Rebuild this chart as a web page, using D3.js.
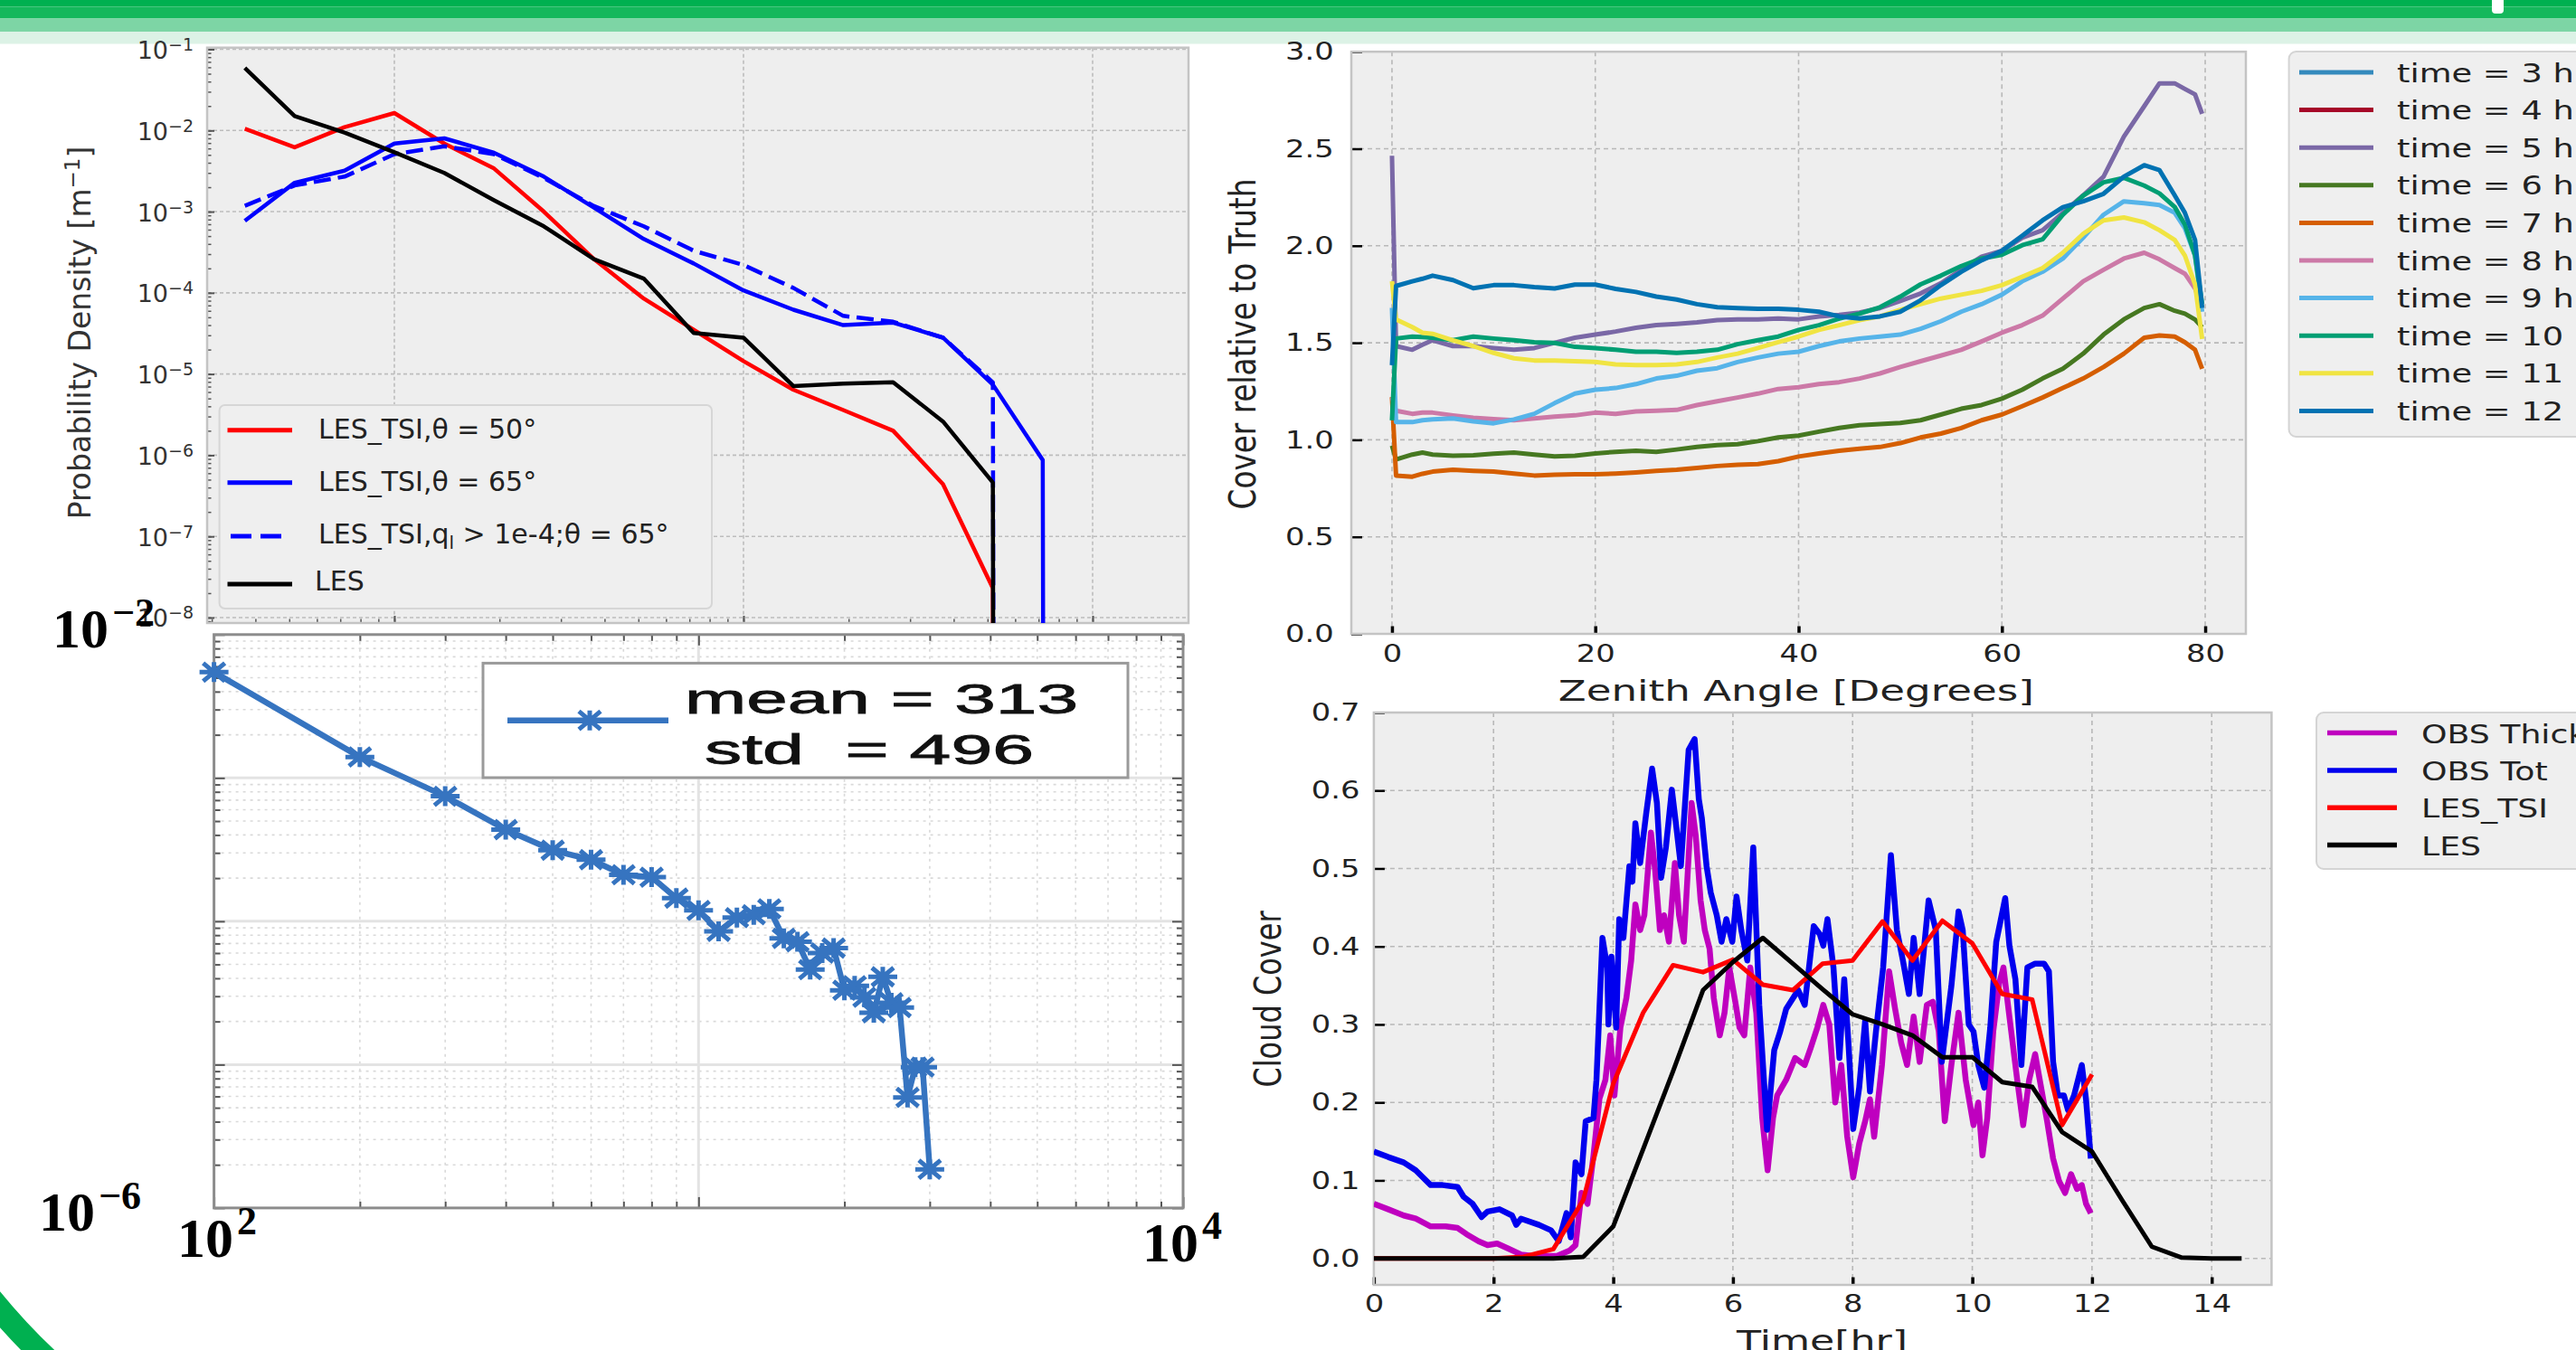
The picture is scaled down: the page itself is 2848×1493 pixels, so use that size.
<!DOCTYPE html>
<meta charset="utf-8">
<script src="https://d3js.org/d3.v7.min.js"></script>
<style>
  body { margin: 0; background: #fff; }
  svg { display: block; }
</style>
<div id="my_dataviz"></div>
<script>

// ---------------- data ----------------
// top left : cloud size PDF (log bins)
var cloudSize = [3.73, 5.18, 7.20, 10, 13.9, 19.3, 26.8, 37.3, 51.8, 72.0, 100, 138.9, 193.1, 268.3, 372.8, 517.9, 719.7, 1000];
var pdfTsi50  = [1.05e-2, 6.2e-3, 1.1e-2, 1.64e-2, 6.9e-3, 3.4e-3, 1.0e-3, 2.6e-4, 8.5e-5, 3.5e-5, 1.44e-5, 6.4e-6, 3.6e-6, 2.0e-6, 4.4e-7, 2.3e-8, 0];
var pdfTsi65  = [7.7e-4, 2.27e-3, 3.2e-3, 6.9e-3, 8.0e-3, 5.3e-3, 2.7e-3, 1.12e-3, 4.6e-4, 2.3e-4, 1.07e-4, 6.2e-5, 4.0e-5, 4.3e-5, 2.8e-5, 7.4e-6, 8.7e-7, 0];
var pdfTsiQl  = [1.18e-3, 2.1e-3, 2.7e-3, 5.1e-3, 6.4e-3, 5.1e-3, 2.6e-3, 1.17e-3, 6.6e-4, 3.3e-4, 2.2e-4, 1.15e-4, 5.2e-5, 4.4e-5, 2.8e-5, 7.9e-6, 0];
var pdfLes    = [5.9e-2, 1.5e-2, 9.4e-3, 5.4e-3, 3.0e-3, 1.38e-3, 6.6e-4, 2.6e-4, 1.5e-4, 3.2e-5, 2.8e-5, 7.1e-6, 7.6e-6, 7.9e-6, 2.6e-6, 4.6e-7, 0];
var pdfTicks  = [1e-1, 1e-2, 1e-3, 1e-4, 1e-5, 1e-6, 1e-7, 1e-8];
var pdfTickExp = ["\u22121", "\u22122", "\u22123", "\u22124", "\u22125", "\u22126", "\u22127", "\u22128"];

// bottom left : size distribution with markers
var sizeB = [100, 200, 300, 400, 500, 600, 700, 800, 900, 1000, 1100, 1200, 1300, 1400, 1500,
             1600, 1700, 1800, 1900, 2000, 2100, 2200, 2300, 2400, 2500, 2600, 2700, 2800, 2900, 3000];
var densB = [5.47e-3, 1.40e-3, 7.45e-4, 4.36e-4, 3.13e-4, 2.69e-4, 2.11e-4, 2.03e-4, 1.45e-4, 1.19e-4,
             8.5e-5, 1.06e-4, 1.11e-4, 1.22e-4, 7.6e-5, 7.2e-5, 4.6e-5, 6.0e-5, 6.5e-5, 3.3e-5,
             3.55e-5, 2.95e-5, 2.3e-5, 4.1e-5, 2.7e-5, 2.5e-5, 5.9e-6, 9.6e-6, 9.6e-6, 1.86e-6];
var legendB = ["mean = 313", "std  = 496"];

// top right : cover relative to truth vs zenith angle
var zenithAngle = [0, 0.4, 2, 3, 4, 6, 8, 10, 12, 14, 16, 18, 20, 22, 24, 26, 28, 30, 32, 34, 36, 38, 40,
                   42, 44, 46, 48, 50, 52, 54, 56, 58, 60, 62, 64, 66, 68, 70, 72, 74, 75.5, 77, 78, 79, 79.7];
var cover3h = [];
var cover4h = [];
var cover5h = [2.464, 1.483, 1.464, 1.49, 1.513, 1.483, 1.483, 1.473, 1.464, 1.473, 1.50, 1.526, 1.542, 1.558, 1.577, 1.591, 1.597, 1.605, 1.617, 1.621, 1.621, 1.625, 1.621,
               1.636, 1.644, 1.656, 1.679, 1.715, 1.754, 1.807, 1.876, 1.944, 1.974, 2.042, 2.08, 2.17, 2.26, 2.356, 2.562, 2.719, 2.837, 2.837, 2.808, 2.78, 2.68];
var cover6h = [0.97, 0.899, 0.924, 0.934, 0.924, 0.918, 0.920, 0.928, 0.934, 0.924, 0.914, 0.918, 0.930, 0.938, 0.944, 0.938, 0.950, 0.963, 0.973, 0.977, 0.993, 1.012, 1.022,
               1.042, 1.061, 1.075, 1.081, 1.087, 1.101, 1.130, 1.160, 1.179, 1.212, 1.258, 1.316, 1.366, 1.444, 1.542, 1.621, 1.679, 1.699, 1.665, 1.650, 1.62, 1.58];
var cover7h = [1.22, 0.816, 0.810, 0.825, 0.836, 0.846, 0.840, 0.836, 0.826, 0.816, 0.820, 0.822, 0.822, 0.826, 0.832, 0.840, 0.846, 0.855, 0.865, 0.871, 0.875, 0.890, 0.914,
               0.930, 0.944, 0.954, 0.963, 0.983, 1.012, 1.032, 1.061, 1.101, 1.130, 1.173, 1.218, 1.267, 1.316, 1.375, 1.444, 1.526, 1.538, 1.532, 1.503, 1.464, 1.366];
var cover8h = [1.22, 1.150, 1.134, 1.14, 1.140, 1.126, 1.114, 1.107, 1.101, 1.110, 1.120, 1.126, 1.140, 1.134, 1.146, 1.150, 1.154, 1.179, 1.199, 1.218, 1.238, 1.262, 1.271,
               1.287, 1.297, 1.316, 1.342, 1.375, 1.405, 1.434, 1.464, 1.507, 1.552, 1.591, 1.640, 1.728, 1.817, 1.876, 1.934, 1.964, 1.93, 1.885, 1.856, 1.78, 1.68];
var cover9h = [1.68, 1.091, 1.091, 1.101, 1.105, 1.110, 1.095, 1.085, 1.105, 1.134, 1.189, 1.238, 1.258, 1.267, 1.287, 1.316, 1.330, 1.356, 1.369, 1.401, 1.424, 1.444, 1.454,
               1.483, 1.507, 1.522, 1.532, 1.542, 1.572, 1.611, 1.660, 1.699, 1.748, 1.817, 1.866, 1.934, 2.042, 2.160, 2.229, 2.219, 2.21, 2.17, 2.09, 1.95, 1.66];
var cover10h = [1.10, 1.522, 1.532, 1.53, 1.526, 1.513, 1.532, 1.522, 1.513, 1.503, 1.499, 1.479, 1.473, 1.464, 1.454, 1.454, 1.448, 1.454, 1.464, 1.493, 1.513, 1.532, 1.566,
                1.591, 1.625, 1.650, 1.683, 1.738, 1.801, 1.846, 1.895, 1.934, 1.954, 2.003, 2.033, 2.160, 2.258, 2.327, 2.35, 2.31, 2.27, 2.20, 2.11, 1.95, 1.70];
var cover11h = [1.817, 1.621, 1.581, 1.552, 1.546, 1.513, 1.483, 1.448, 1.420, 1.409, 1.409, 1.405, 1.401, 1.389, 1.385, 1.385, 1.389, 1.401, 1.424, 1.444, 1.473, 1.503, 1.532,
                1.566, 1.591, 1.617, 1.636, 1.670, 1.699, 1.728, 1.748, 1.768, 1.797, 1.840, 1.885, 1.964, 2.062, 2.131, 2.146, 2.121, 2.08, 2.03, 1.95, 1.80, 1.52];
var cover12h = [1.385, 1.793, 1.817, 1.83, 1.846, 1.823, 1.781, 1.797, 1.797, 1.787, 1.78, 1.80, 1.80, 1.778, 1.762, 1.738, 1.723, 1.699, 1.683, 1.679, 1.675, 1.675, 1.670,
                1.660, 1.636, 1.625, 1.636, 1.660, 1.719, 1.797, 1.866, 1.925, 1.974, 2.052, 2.131, 2.199, 2.229, 2.268, 2.356, 2.415, 2.39, 2.26, 2.17, 2.03, 1.68];
var hourLabels = ["time = 3 h", "time = 4 h", "time = 5 h", "time = 6 h", "time = 7 h", "time = 8 h", "time = 9 h", "time = 10 h", "time = 11 h", "time = 12 h"];
var hourColors = ["#348ABD", "#A60628", "#7A68A6", "#467821", "#D55E00", "#CC79A7", "#56B4E9", "#009E73", "#F0E442", "#0072B2"];
var zenithTicks = [0, 20, 40, 60, 80];
var ratioTicks = [0, 0.5, 1, 1.5, 2, 2.5, 3];

// bottom right : cloud cover time series
var obsTotTime  = [0, 0.24, 0.5, 0.7, 0.95, 1.15, 1.4, 1.5, 1.65, 1.8, 1.9, 2.1, 2.31, 2.38, 2.46, 2.76, 2.96, 3.09, 3.22, 3.29, 3.37, 3.47, 3.54, 3.67, 3.72, 3.82, 3.9, 3.92, 3.97,
                   4.05, 4.1, 4.17, 4.27, 4.32, 4.37, 4.45, 4.55, 4.65, 4.73, 4.8, 4.88, 4.98, 5.05, 5.13, 5.26, 5.36, 5.43, 5.48, 5.56, 5.63, 5.73, 5.81, 5.89, 5.99,
                   6.06, 6.14, 6.24, 6.34, 6.44, 6.57, 6.69, 6.79, 6.89, 7.09, 7.2, 7.35, 7.45, 7.51, 7.58, 7.68, 7.78, 7.86, 7.93, 8.01, 8.11, 8.21, 8.29, 8.39, 8.51,
                   8.64, 8.74, 8.84, 8.94, 9.02, 9.12, 9.27, 9.39, 9.49, 9.65, 9.77, 9.84, 9.94, 10.02, 10.1, 10.2, 10.3, 10.4, 10.55, 10.62, 10.72, 10.82, 10.92,
                   11.05, 11.2, 11.28, 11.35, 11.43, 11.53, 11.6, 11.7, 11.83, 11.9, 11.98];
var obsTotCover = [0.137, 0.130, 0.123, 0.113, 0.094, 0.094, 0.0915, 0.079, 0.070, 0.053, 0.060, 0.063, 0.055, 0.043, 0.051, 0.043, 0.036, 0.022, 0.058, 0.027, 0.123, 0.108, 0.176, 0.180, 0.229, 0.411, 0.373, 0.30, 0.387,
                   0.296, 0.435, 0.411, 0.503, 0.483, 0.558, 0.507, 0.570, 0.628, 0.584, 0.488, 0.527, 0.601, 0.556, 0.503, 0.652, 0.666, 0.589, 0.565, 0.503, 0.469, 0.440, 0.406, 0.435, 0.406,
                   0.464, 0.421, 0.382, 0.527, 0.325, 0.165, 0.267, 0.291, 0.320, 0.344, 0.325, 0.426, 0.416, 0.401, 0.435, 0.373, 0.257, 0.358, 0.277, 0.166, 0.219, 0.305, 0.214, 0.291, 0.373,
                   0.517, 0.421, 0.382, 0.339, 0.411, 0.339, 0.459, 0.421, 0.252, 0.349, 0.445, 0.421, 0.300, 0.291, 0.248, 0.219, 0.296, 0.406, 0.462, 0.401, 0.358, 0.248, 0.373,
                   0.378, 0.378, 0.368, 0.252, 0.209, 0.209, 0.190, 0.209, 0.248, 0.204, 0.128];
var obsThickTime  = [0, 0.24, 0.5, 0.7, 0.95, 1.2, 1.4, 1.55, 1.75, 1.9, 2.06, 2.26, 2.46, 2.66, 2.86, 3.06, 3.27, 3.37, 3.47, 3.57, 3.67, 3.77, 3.87, 3.95, 4.02, 4.12, 4.22, 4.3,
                     4.37, 4.45, 4.52, 4.63, 4.7, 4.78, 4.85, 4.93, 5.03, 5.1, 5.18, 5.31, 5.38, 5.46, 5.53, 5.61, 5.68, 5.78, 5.86, 5.94, 6.04, 6.11, 6.19, 6.29, 6.39,
                     6.49, 6.58, 6.67, 6.74, 6.89, 7.04, 7.2, 7.3, 7.41, 7.51, 7.61, 7.71, 7.81, 7.91, 8.01, 8.11, 8.21, 8.29, 8.36, 8.49, 8.61, 8.71, 8.81, 8.91, 9.02,
                     9.12, 9.24, 9.34, 9.44, 9.54, 9.65, 9.77, 9.89, 10.02, 10.1, 10.17, 10.25, 10.35, 10.45, 10.52, 10.62, 10.75, 10.85, 10.95, 11.05, 11.15, 11.25,
                     11.35, 11.45, 11.55, 11.65, 11.75, 11.83, 11.9, 11.98];
var obsThickCover = [0.070, 0.063, 0.055, 0.051, 0.041, 0.041, 0.039, 0.031, 0.022, 0.017, 0.019, 0.012, 0.005, 0.003, 0.003, 0.003, 0.010, 0.017, 0.084, 0.070, 0.132, 0.205, 0.229, 0.286, 0.209, 0.296, 0.334, 0.382,
                     0.454, 0.421, 0.440, 0.546, 0.498, 0.421, 0.440, 0.406, 0.507, 0.440, 0.406, 0.584, 0.541, 0.459, 0.421, 0.397, 0.334, 0.286, 0.315, 0.373, 0.329, 0.296, 0.286, 0.373, 0.315,
                     0.180, 0.113, 0.180, 0.209, 0.229, 0.257, 0.248, 0.27, 0.296, 0.325, 0.300, 0.200, 0.248, 0.156, 0.104, 0.147, 0.176, 0.204, 0.156, 0.248, 0.368, 0.320, 0.277, 0.248, 0.310,
                     0.252, 0.325, 0.329, 0.291, 0.176, 0.248, 0.315, 0.229, 0.171, 0.200, 0.132, 0.180, 0.291, 0.353, 0.373, 0.310, 0.229, 0.171, 0.229, 0.262, 0.219, 0.176,
                     0.128, 0.099, 0.084, 0.108, 0.089, 0.094, 0.070, 0.058];
var lesTime  = [0, 0.5, 1, 1.5, 2, 2.5, 3, 3.5, 4, 4.5, 5, 5.5, 6, 6.5, 7, 7.5, 8, 8.5, 9, 9.5, 10, 10.5, 11, 11.5, 12, 12.5, 13, 13.5, 14, 14.5];
var lesCover = [0, 0, 0, 0, 0, 0, 0, 0.002, 0.041, 0.14, 0.24, 0.344, 0.38, 0.411, 0.378, 0.345, 0.313, 0.300, 0.286, 0.258, 0.258, 0.226, 0.220, 0.162, 0.137, 0.075, 0.015, 0.001, 0, 0];
var lesTsiTime  = [0, 0.5, 1, 1.5, 2, 2.5, 3, 3.5, 4, 4.5, 5, 5.5, 6, 6.5, 7, 7.5, 8, 8.5, 9, 9.5, 10, 10.5, 11, 11.5, 12];
var lesTsiCover = [0, 0, 0, 0, 0, 0.002, 0.012, 0.075, 0.224, 0.315, 0.376, 0.367, 0.383, 0.351, 0.344, 0.378, 0.382, 0.432, 0.382, 0.433, 0.404, 0.339, 0.332, 0.171, 0.236];
var coverLabels = ["OBS Thick", "OBS Tot", "LES_TSI", "LES"];
var timeTicks = [0, 2, 4, 6, 8, 10, 12, 14];
var coverTicks = [0, 0.1, 0.2, 0.3, 0.4, 0.5, 0.6, 0.7];

// ---------------- page ----------------
var W = 2848, H = 1493;
var svg = d3.select("#my_dataviz").append("svg")
    .attr("width", W).attr("height", H)
    .attr("font-family", "DejaVu Sans");
svg.append("rect").attr("width", W).attr("height", H).attr("fill", "#fff");

// green header bands
[[0, 7.5, "#00b050"], [7.5, 20.5, "#15b85c"], [20.5, 35, "#7dd5a5"], [35, 48.5, "#dcf2e6"]].forEach(function(b) {
  svg.append("rect").attr("x", 0).attr("y", b[0]).attr("width", W).attr("height", b[1] - b[0]).attr("fill", b[2]);
});
svg.append("rect").attr("x", 2755).attr("y", -6).attr("width", 13).attr("height", 21).attr("rx", 4).attr("fill", "#fff");
// green arc in the corner
svg.append("path").attr("d", "M -41 1395.5 A 700 700 0 0 0 101.5 1545.6")
  .attr("fill", "none").attr("stroke", "#00b050").attr("stroke-width", 26);

var defs = svg.append("defs");
function clip(id, x, y, w, h) {
  defs.append("clipPath").attr("id", id).append("rect").attr("x", x).attr("y", y).attr("width", w).attr("height", h);
  return "url(#" + id + ")";
}
function minors(lo, hi, kFrom, kTo) {
  var out = [];
  for (var k = kFrom; k <= kTo; k++) for (var n = 1; n <= 9; n++) {
    var v = n * Math.pow(10, k);
    if (v >= lo && v <= hi) out.push(v);
  }
  return out;
}
function ticksOnly(g, axis, tx, ty, color, width) {
  var a = g.append("g").attr("transform", "translate(" + tx + "," + ty + ")").call(axis);
  a.select(".domain").remove();
  a.selectAll("text").remove();
  a.selectAll("line").attr("stroke", color).attr("stroke-width", width);
  return a;
}

// ================= panel A : PDF (top left) =================
var A = {l: 229, r: 1314, t: 52.7, b: 689};
var xA = d3.scaleLog().domain([2.909, 1882]).range([A.l, A.r]);
var yA = d3.scaleLog().domain([8.57e-9, 0.1047]).range([A.b, A.t]);
var gA = svg.append("g");
gA.append("rect").attr("x", A.l).attr("y", A.t).attr("width", A.r - A.l).attr("height", A.b - A.t).attr("fill", "#eeeeee");
gA.selectAll(".gxa").data([10, 100, 1000]).enter().append("line")
  .attr("x1", d => xA(d)).attr("x2", d => xA(d)).attr("y1", A.t).attr("y2", A.b)
  .attr("stroke", "#bdbdbd").attr("stroke-width", 1.6).attr("stroke-dasharray", "4,3");
gA.selectAll(".gya").data(pdfTicks).enter().append("line")
  .attr("x1", A.l).attr("x2", A.r).attr("y1", d => yA(d)).attr("y2", d => yA(d))
  .attr("stroke", "#bdbdbd").attr("stroke-width", 1.6).attr("stroke-dasharray", "4,3");
ticksOnly(gA, d3.axisLeft(yA).tickValues(minors(8.57e-9, 0.1047, -9, -1)).tickSize(-4.5).tickFormat(""), A.l, 0, "#555", 1.5);
ticksOnly(gA, d3.axisLeft(yA).tickValues(pdfTicks).tickSize(-8).tickFormat(""), A.l, 0, "#555", 2);
ticksOnly(gA, d3.axisBottom(xA).tickValues(minors(2.909, 1882, 0, 3)).tickSize(-4.5).tickFormat(""), 0, A.b, "#555", 1.5);
ticksOnly(gA, d3.axisBottom(xA).tickValues([10, 100, 1000]).tickSize(-8).tickFormat(""), 0, A.b, "#555", 2);
gA.append("rect").attr("x", A.l).attr("y", A.t).attr("width", A.r - A.l).attr("height", A.b - A.t)
  .attr("fill", "none").attr("stroke", "#c4c4c4").attr("stroke-width", 2.5);

var clipA = clip("clipA", A.l, A.t, A.r - A.l, A.b - A.t);
var lineA = d3.line().x((d, i) => xA(cloudSize[i])).y(d => yA(Math.max(d, 1e-300)));
var seriesA = [
  {v: pdfTsi50, c: "#ff0000", dash: null},
  {v: pdfTsi65, c: "#0000ff", dash: null},
  {v: pdfTsiQl, c: "#0000ff", dash: "19,8"},
  {v: pdfLes,   c: "#000000", dash: null}
];
gA.append("g").attr("clip-path", clipA).selectAll("path").data(seriesA).enter().append("path")
  .attr("d", d => lineA(d.v)).attr("fill", "none").attr("stroke", d => d.c)
  .attr("stroke-width", 4.5).attr("stroke-linejoin", "round")
  .attr("stroke-dasharray", d => d.dash);

// y tick labels 10^-k
pdfTicks.forEach(function(t, i) {
  var tx = gA.append("text").attr("x", 214).attr("y", yA(t) + 10.5).attr("text-anchor", "end")
    .attr("fill", "#333").attr("font-size", 27);
  tx.append("tspan").text("10");
  tx.append("tspan").attr("dy", -9).attr("font-size", 19).text(pdfTickExp[i]);
});
var yl = gA.append("text").attr("transform", "translate(100,368) rotate(-90)").attr("text-anchor", "middle")
  .attr("font-size", 33).attr("fill", "#333");
yl.append("tspan").text("Probability Density [m");
yl.append("tspan").attr("dy", -12).attr("font-size", 23).text("\u22121");
yl.append("tspan").attr("dy", 12).text("]");

// legend A
gA.append("rect").attr("x", 242.6).attr("y", 448).attr("width", 544.4).attr("height", 225).attr("rx", 6)
  .attr("fill", "#efefef").attr("stroke", "#d6d6d6").attr("stroke-width", 2);
var legA = [
  {y: 475.7, c: "#ff0000", dash: null},
  {y: 533.7, c: "#0000ff", dash: null},
  {y: 593, c: "#0000ff", dash: "23,10"},
  {y: 646, c: "#000000", dash: null}
];
legA.forEach(function(e) {
  gA.append("line").attr("x1", e.dash ? 255 : 251.5).attr("x2", e.dash ? 314 : 323).attr("y1", e.y).attr("y2", e.y)
    .attr("stroke", e.c).attr("stroke-width", 5).attr("stroke-dasharray", e.dash);
});
function legText(x, y) {
  return gA.append("text").attr("x", x).attr("y", y).attr("font-size", 30).attr("fill", "#222");
}
legText(352, 484.7).text("LES_TSI,\u03b8 = 50\u00b0");
legText(352, 542.7).text("LES_TSI,\u03b8 = 65\u00b0");
var l3 = legText(352, 601);
l3.append("tspan").text("LES_TSI,q");
l3.append("tspan").attr("dy", 6).attr("font-size", 20).text("l");
l3.append("tspan").attr("dy", -6).text(" > 1e-4;\u03b8 = 65\u00b0");
legText(348, 653).text("LES");

// ================= panel B : matlab figure (bottom left) =================
var B = {l: 236.6, r: 1308, t: 701.8, b: 1335.9};
var xB = d3.scaleLog().domain([100, 10000]).range([B.l, B.r]);
var yB = d3.scaleLog().domain([1e-6, 1e-2]).range([B.b, B.t]);
var gB = svg.append("g");
gB.append("rect").attr("x", B.l).attr("y", B.t).attr("width", B.r - B.l).attr("height", B.b - B.t).attr("fill", "#fff");
var minXB = minors(100, 10000, 2, 3).filter(v => [100, 1000].indexOf(v) < 0);
var minYB = minors(1e-6, 1e-2, -6, -3).filter(v => [1e-6, 1e-5, 1e-4, 1e-3].indexOf(v) < 0);
gB.selectAll(".mxb").data(minXB).enter().append("line")
  .attr("x1", d => xB(d)).attr("x2", d => xB(d)).attr("y1", B.t).attr("y2", B.b)
  .attr("stroke", "#d9d9d9").attr("stroke-width", 1.6).attr("stroke-dasharray", "3,5");
gB.selectAll(".myb").data(minYB).enter().append("line")
  .attr("x1", B.l).attr("x2", B.r).attr("y1", d => yB(d)).attr("y2", d => yB(d))
  .attr("stroke", "#d9d9d9").attr("stroke-width", 1.6).attr("stroke-dasharray", "3,5");
gB.selectAll(".gxb").data([1000]).enter().append("line")
  .attr("x1", d => xB(d)).attr("x2", d => xB(d)).attr("y1", B.t).attr("y2", B.b)
  .attr("stroke", "#e3e3e3").attr("stroke-width", 3);
gB.selectAll(".gyb").data([1e-3, 1e-4, 1e-5]).enter().append("line")
  .attr("x1", B.l).attr("x2", B.r).attr("y1", d => yB(d)).attr("y2", d => yB(d))
  .attr("stroke", "#e3e3e3").attr("stroke-width", 3);
[["L", B.l, 0], ["R", B.r, 0], ["T", 0, B.t], ["Bt", 0, B.b]].forEach(function(s) {
  var mk = function(vals, len) {
    if (s[0] === "L") return d3.axisLeft(yB).tickValues(vals.y).tickSize(-len).tickFormat("");
    if (s[0] === "R") return d3.axisRight(yB).tickValues(vals.y).tickSize(-len).tickFormat("");
    if (s[0] === "T") return d3.axisTop(xB).tickValues(vals.x).tickSize(-len).tickFormat("");
    return d3.axisBottom(xB).tickValues(vals.x).tickSize(-len).tickFormat("");
  };
  ticksOnly(gB, mk({x: minXB, y: minYB}, 7), s[1], s[2], "#555", 2);
  ticksOnly(gB, mk({x: [100, 1000, 10000], y: [1e-6, 1e-5, 1e-4, 1e-3, 1e-2]}, 12), s[1], s[2], "#555", 2);
});
gB.append("rect").attr("x", B.l).attr("y", B.t).attr("width", B.r - B.l).attr("height", B.b - B.t)
  .attr("fill", "none").attr("stroke", "#8c8c8c").attr("stroke-width", 3);

var blueB = "#3674c0";
var star = "M-16,0H16M0,-11V11M-12,-10L12,10M-12,10L12,-10";
gB.append("path").datum(sizeB)
  .attr("d", d3.line().x(d => xB(d)).y((d, i) => yB(densB[i])))
  .attr("fill", "none").attr("stroke", blueB).attr("stroke-width", 6.5).attr("stroke-linejoin", "round");
gB.selectAll(".mk").data(sizeB).enter().append("path")
  .attr("transform", (d, i) => "translate(" + xB(d) + "," + yB(densB[i]) + ")")
  .attr("d", star).attr("fill", "none").attr("stroke", blueB).attr("stroke-width", 5);

// legend B
gB.append("rect").attr("x", 534).attr("y", 733.4).attr("width", 713).attr("height", 126.6)
  .attr("fill", "#fff").attr("stroke", "#9a9a9a").attr("stroke-width", 3);
gB.append("line").attr("x1", 561).attr("x2", 739).attr("y1", 796.7).attr("y2", 796.7)
  .attr("stroke", blueB).attr("stroke-width", 6.5);
gB.append("path").attr("transform", "translate(652,796.7)").attr("d", star)
  .attr("fill", "none").attr("stroke", blueB).attr("stroke-width", 5);
[[757, 789, 435], [779, 845, 364]].forEach(function(p, i) {
  gB.append("text").attr("x", p[0]).attr("y", p[1]).attr("font-family", "Liberation Sans")
    .attr("font-size", 47).attr("fill", "#111").attr("stroke", "#111").attr("stroke-width", 0.8)
    .attr("xml:space", "preserve").style("white-space", "pre")
    .attr("textLength", p[2]).attr("lengthAdjust", "spacingAndGlyphs").text(legendB[i]);
});

// bold axis labels pasted on the slide
function boldPow(x, y, base, sup, supDy) {
  var t = svg.append("text").attr("x", x).attr("y", y).attr("font-family", "Liberation Serif")
    .attr("font-weight", "bold").attr("font-size", 62).attr("fill", "#000");
  t.append("tspan").text(base);
  t.append("tspan").attr("dx", 4).attr("dy", supDy).attr("font-size", 44).text(sup);
}
boldPow(58, 716, "10", "\u22122", -24);
boldPow(43, 1361, "10", "\u22126", -24);
boldPow(196, 1390, "10", "2", -25);
boldPow(1263, 1395, "10", "4", -25);

// ================= panel C : cover ratio (top right) =================
var SX = 1.25;
var C = {l: 1494, r: 2483, t: 57.2, b: 701};
var xC = d3.scaleLinear().domain([-4, 84]).range([C.l, C.r]);
var yC = d3.scaleLinear().domain([0, 3]).range([C.b, C.t]);
var gC = svg.append("g");
gC.append("rect").attr("x", C.l).attr("y", C.t).attr("width", C.r - C.l).attr("height", C.b - C.t).attr("fill", "#eeeeee");
gC.selectAll(".gxc").data(zenithTicks).enter().append("line")
  .attr("x1", d => xC(d)).attr("x2", d => xC(d)).attr("y1", C.t).attr("y2", C.b)
  .attr("stroke", "#b8b8b8").attr("stroke-width", 1.6).attr("stroke-dasharray", "5,4");
gC.selectAll(".gyc").data(ratioTicks).enter().append("line")
  .attr("x1", C.l).attr("x2", C.r).attr("y1", d => yC(d)).attr("y2", d => yC(d))
  .attr("stroke", "#b8b8b8").attr("stroke-width", 1.6).attr("stroke-dasharray", "5,4");

function styledAxis(g, axis, tx, ty, lw) {
  var a = g.append("g").attr("transform", "translate(" + tx + "," + ty + ")").call(axis);
  a.select(".domain").remove();
  a.selectAll("line").attr("stroke", "#000").attr("stroke-width", lw);
  a.selectAll("text").attr("font-size", 27).attr("font-family", "DejaVu Sans").attr("fill", "#222")
    .attr("transform", "scale(" + SX + ",1)");
  return a;
}
styledAxis(gC, d3.axisLeft(yC).tickValues(ratioTicks).tickSize(-12).tickPadding(15.5).tickFormat(d3.format(".1f")), C.l, 0, 2.5);
styledAxis(gC, d3.axisBottom(xC).tickValues(zenithTicks).tickSize(-8.5).tickPadding(11.5).tickFormat(d3.format("d")), 0, C.b, 3.5);
gC.append("rect").attr("x", C.l).attr("y", C.t).attr("width", C.r - C.l).attr("height", C.b - C.t)
  .attr("fill", "none").attr("stroke", "#c4c4c4").attr("stroke-width", 2.5);

var hourSeries = [cover3h, cover4h, cover5h, cover6h, cover7h, cover8h, cover9h, cover10h, cover11h, cover12h];
var lineC = d3.line().x((d, i) => xC(zenithAngle[i])).y(d => yC(d));
var clipC = clip("clipC", C.l, C.t, C.r - C.l, C.b - C.t);
gC.append("g").attr("clip-path", clipC).selectAll("path").data(hourSeries).enter().append("path")
  .attr("d", d => d.length ? lineC(d) : null).attr("fill", "none")
  .attr("stroke", (d, i) => hourColors[i]).attr("stroke-width", 5).attr("stroke-linejoin", "round");

gC.append("text").attr("x", 1722.8).attr("y", 774.6).attr("font-size", 31.5).attr("fill", "#222")
  .attr("textLength", 526).attr("lengthAdjust", "spacingAndGlyphs").text("Zenith Angle [Degrees]");
gC.append("text").attr("transform", "translate(1388,380.5) scale(1.27,1) rotate(-90)")
  .attr("text-anchor", "middle").attr("font-size", 32.7).attr("fill", "#222").text("Cover relative to Truth");

gC.append("rect").attr("x", 2530.6).attr("y", 57).attr("width", 420).attr("height", 426).attr("rx", 8)
  .attr("fill", "#efefef").attr("stroke", "#d4d4d4").attr("stroke-width", 2);
hourLabels.forEach(function(lab, i) {
  var y = 80 + 41.6 * i;
  gC.append("line").attr("x1", 2542).attr("x2", 2624).attr("y1", y).attr("y2", y)
    .attr("stroke", hourColors[i]).attr("stroke-width", 5);
  gC.append("text").attr("transform", "translate(2650," + (y + 10.6) + ") scale(1.27,1)")
    .attr("font-size", 29).attr("fill", "#222").text(lab);
});

// ================= panel D : cloud cover (bottom right) =================
var D = {l: 1518.9, r: 2511.4, t: 788, b: 1421};
var xD = d3.scaleLinear().domain([0, 15]).range([D.l, D.r]);
var yD = d3.scaleLinear().domain([-0.034, 0.7]).range([D.b, D.t]);
var gD = svg.append("g");
gD.append("rect").attr("x", D.l).attr("y", D.t).attr("width", D.r - D.l).attr("height", D.b - D.t).attr("fill", "#eeeeee");
gD.selectAll(".gxd").data(timeTicks).enter().append("line")
  .attr("x1", d => xD(d)).attr("x2", d => xD(d)).attr("y1", D.t).attr("y2", D.b)
  .attr("stroke", "#b8b8b8").attr("stroke-width", 1.6).attr("stroke-dasharray", "5,4");
gD.selectAll(".gyd").data(coverTicks).enter().append("line")
  .attr("x1", D.l).attr("x2", D.r).attr("y1", d => yD(d)).attr("y2", d => yD(d))
  .attr("stroke", "#b8b8b8").attr("stroke-width", 1.6).attr("stroke-dasharray", "5,4");
styledAxis(gD, d3.axisLeft(yD).tickValues(coverTicks).tickSize(-12).tickPadding(12.3).tickFormat(d3.format(".1f")), D.l, 0, 2.5);
styledAxis(gD, d3.axisBottom(xD).tickValues(timeTicks).tickSize(-8.5).tickPadding(11).tickFormat(d3.format("d")), 0, D.b, 3.5);
gD.append("rect").attr("x", D.l).attr("y", D.t).attr("width", D.r - D.l).attr("height", D.b - D.t)
  .attr("fill", "none").attr("stroke", "#c4c4c4").attr("stroke-width", 2.5);

var seriesD = [
  {t: obsThickTime, v: obsThickCover, c: "#bf00bf", w: 6.5},
  {t: obsTotTime, v: obsTotCover, c: "#0000ee", w: 6.5},
  {t: lesTsiTime, v: lesTsiCover, c: "#ff0000", w: 5},
  {t: lesTime, v: lesCover, c: "#000000", w: 5}
];
var clipD = clip("clipD", D.l, D.t, D.r - D.l, D.b - D.t);
gD.append("g").attr("clip-path", clipD).selectAll("path").data(seriesD).enter().append("path")
  .attr("d", s => d3.line().x((d, i) => xD(s.t[i])).y(d => yD(d))(s.v))
  .attr("fill", "none").attr("stroke", s => s.c).attr("stroke-width", s => s.w).attr("stroke-linejoin", "round");

gD.append("text").attr("transform", "translate(1416,1105) scale(1.27,1) rotate(-90)")
  .attr("text-anchor", "middle").attr("font-size", 32).attr("fill", "#222").text("Cloud Cover");
gD.append("text").attr("x", 1920).attr("y", 1494).attr("font-size", 32).attr("fill", "#222")
  .attr("textLength", 189).attr("lengthAdjust", "spacingAndGlyphs").text("Time[hr]");

gD.append("rect").attr("x", 2561).attr("y", 788).attr("width", 400).attr("height", 173).attr("rx", 8)
  .attr("fill", "#efefef").attr("stroke", "#d4d4d4").attr("stroke-width", 2);
coverLabels.forEach(function(lab, i) {
  var y = 810.6 + 41.3 * i;
  gD.append("line").attr("x1", 2573).attr("x2", 2650).attr("y1", y).attr("y2", y)
    .attr("stroke", seriesD[i].c).attr("stroke-width", 5.5);
  gD.append("text").attr("transform", "translate(2677," + (y + 11) + ") scale(" + SX + ",1)")
    .attr("font-size", 29).attr("fill", "#222").text(lab);
});

</script>
